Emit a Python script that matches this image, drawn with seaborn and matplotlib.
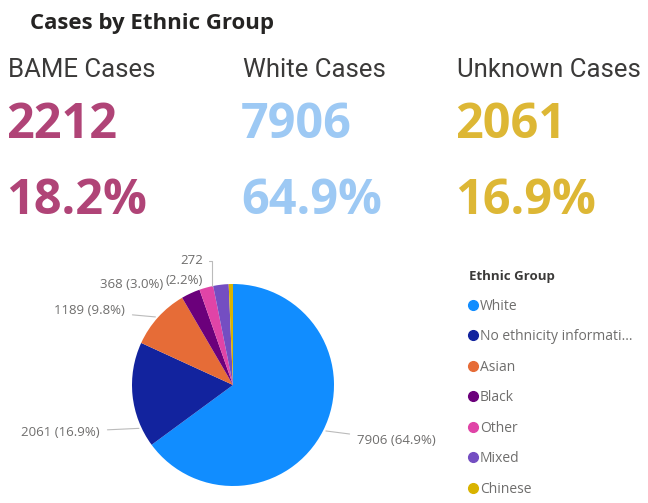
import numpy as np
import matplotlib
matplotlib.use("Agg")
import matplotlib.pyplot as plt
from matplotlib.lines import Line2D
import seaborn as sns

# kpi cards
kpi_titles = ["BAME Cases", "White Cases", "Unknown Cases"]
kpi_counts = ["2212", "7906", "2061"]
kpi_pcts = ["18.2%", "64.9%", "16.9%"]
kpi_colors = ["#B04477", "#9DC9F4", "#DDB735"]

# pie data
groups = ["White", "No ethnicity information", "Asian", "Black", "Other", "Mixed", "Chinese"]
legend_labels = ["White", "No ethnicity informati...", "Asian", "Black", "Other", "Mixed", "Chinese"]
cases = [7906, 2061, 1189, 368, 272, 300, 83]
group_colors = ["#118DFF", "#12239E", "#E66C37", "#6B007B", "#E044A7", "#744EC2", "#D9B300"]

sns.set_theme(style="white")
plt.rcParams["font.family"] = ["Open Sans", "DejaVu Sans"]

W, H = 648, 503
fig = plt.figure(figsize=(W / 100, H / 100), dpi=100)
fig.patch.set_facecolor("white")


def fx(px):
    return px / W


def fy(py):
    return 1 - py / H


fig.text(fx(30), fy(24), "Cases by Ethnic Group", fontsize=16, fontweight="bold",
         color="#252423", va="center", ha="left")

col_x = [8, 243, 457]
for i in range(3):
    fig.text(fx(col_x[i]), fy(70), kpi_titles[i], fontsize=18.5, color="#3b3a39",
             va="center", ha="left", family=["Roboto", "DejaVu Sans"])
    fig.text(fx(col_x[i] - 2), fy(126), kpi_counts[i], fontsize=35, fontweight="bold",
             color=kpi_colors[i], va="center", ha="left")
    fig.text(fx(col_x[i] - 2), fy(201), kpi_pcts[i], fontsize=35, fontweight="bold",
             color=kpi_colors[i], va="center", ha="left")

# pie axes: centre at (233, 385) px, radius 101 px
cx, cy, r = 233, 385, 101
left_px, right_px, top_px, bot_px = 0, 460, 250, 503
ax = fig.add_axes([fx(left_px), fy(bot_px), (right_px - left_px) / W, (bot_px - top_px) / H])
pal = sns.color_palette(group_colors)
wedges, _ = ax.pie(cases, colors=pal, startangle=90, counterclock=False,
                   wedgeprops=dict(linewidth=0))
ax.set_xlim((left_px - cx) / r, (right_px - cx) / r)
ax.set_ylim((cy - bot_px) / r, (cy - top_px) / r)
ax.set_aspect("auto")
ax.axis("off")

total = sum(cases)
label_text = []
for v in cases[:5]:
    label_text.append(f"{v} ({v / total * 100:.1f}%)")
label_text[4] = f"{cases[4]}\n({cases[4] / total * 100:.1f}%)"

# label placement (text px position, alignment, anchor fraction along wedge)
label_pos = [(357, 440), (100, 432), (125, 311), (163, 284), (203, 271)]
label_ha = ["left", "right", "right", "right", "right"]
anchor_frac = [0.5, 0.82, 0.5, 0.5, 0.1]
lab_fs = 9.5

for i in range(5):
    w = wedges[i]
    ang = np.deg2rad(w.theta1 + anchor_frac[i] * (w.theta2 - w.theta1))
    ax_xy = (np.cos(ang), np.sin(ang))
    tx = (label_pos[i][0] - cx) / r
    ty = (cy - label_pos[i][1]) / r
    if i == 3:
        ax.text(tx, ty, label_text[i], fontsize=lab_fs, color="#6f6e6d", ha="right", va="center")
        continue
    if i == 4:
        arrow = dict(arrowstyle="-", color="#bbbbbb", lw=0.8,
                     connectionstyle="angle,angleA=0,angleB=90,rad=0", relpos=(1, 0.8),
                     shrinkA=2, shrinkB=0)
    else:
        arrow = dict(arrowstyle="-", color="#bbbbbb", lw=0.8, shrinkA=3, shrinkB=2)
    ax.annotate(label_text[i], xy=ax_xy, xytext=(tx, ty), fontsize=lab_fs, color="#6f6e6d",
                ha=label_ha[i], va="center", ma="right", arrowprops=arrow,
                linespacing=1.7)

handles = [Line2D([0], [0], marker="o", linestyle="", markersize=7,
                  markerfacecolor=c, markeredgecolor=c) for c in group_colors]
leg = fig.legend(handles, legend_labels, title="Ethnic Group", loc="upper left",
                 bbox_to_anchor=(fx(462), fy(263)), frameon=False, fontsize=10,
                 title_fontproperties={"weight": "bold", "size": 9.5},
                 alignment="left", handlelength=0.6, handletextpad=0.2,
                 labelspacing=1.12, borderpad=0)
for t in leg.get_texts():
    t.set_color("#6f6e6d")
leg.get_title().set_color("#3b3a39")

fig.savefig("out.png", dpi=100, facecolor="white")
